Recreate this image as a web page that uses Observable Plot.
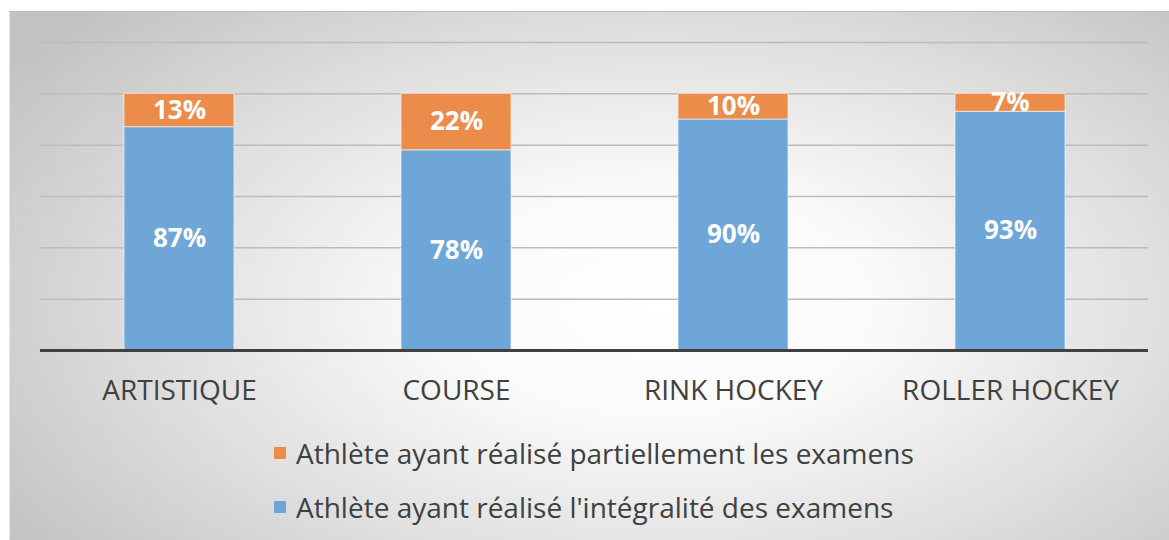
<!DOCTYPE html>
<html>
<head>
<meta charset="utf-8">
<script src="https://cdn.jsdelivr.net/npm/d3@7"></script>
<script src="https://cdn.jsdelivr.net/npm/@observablehq/plot@0.6"></script>
<style>
  html, body { margin: 0; padding: 0; background: #fff; width: 1169px; height: 540px; overflow: hidden; }
  #chart {
    position: absolute; left: 9px; top: 11px; width: 1160px; height: 529px;
    border-top: 1px solid #bdbdbd; border-left: 1px solid #e6e6e6;
    background: radial-gradient(ellipse 68% 80% at 56% 55%, #ffffff 0%, #fafafa 28%, #dedede 65%, #c2c2c2 100%);
    font-family: "Open Sans", sans-serif;
  }
  #plot { position: absolute; left: 0; top: 0; }
  #legend { position: absolute; left: 264px; top: 414px; color: #404040; font-size: 28px; }
  .item { display: flex; align-items: center; height: 54px; }
  .sw { width: 12px; height: 12px; margin-right: 10px; }
</style>
</head>
<body>
<div id="chart"><div id="plot"></div><div id="legend"></div></div>
<script>
const categories = ["ARTISTIQUE", "COURSE", "RINK HOCKEY", "ROLLER HOCKEY"];
const complete = [87, 78, 90, 93];
const partial = [13, 22, 10, 7];
const seriesNames = ["Athlète ayant réalisé l'intégralité des examens", "Athlète ayant réalisé partiellement les examens"];
const seriesColors = ["#6fa6d8", "#ec8c4b"];
const legendOrder = [1, 0];
const gridTicks = [0, 20, 40, 60, 80, 100, 120];

const data = [];
categories.forEach((c, i) => {
  data.push({cat: c, series: seriesNames[0], value: complete[i]});
  data.push({cat: c, series: seriesNames[1], value: partial[i]});
});

const plot = Plot.plot({
  width: 1160,
  height: 420,
  marginTop: 30,
  marginBottom: 82,
  marginLeft: 30,
  marginRight: 22,
  style: {background: "transparent", fontFamily: "Open Sans, sans-serif", overflow: "visible"},
  x: {domain: categories, paddingInner: 0.603, paddingOuter: 0.3, label: null},
  y: {domain: [0, 120], label: null, axis: null},
  color: {domain: seriesNames, range: seriesColors},
  marks: [
    Plot.ruleY(gridTicks.filter(t => t > 0), {stroke: "#bcbcbc", strokeWidth: 1.5}),
    Plot.barY(data, Plot.stackY({x: "cat", y: "value", fill: "series", order: seriesNames, stroke: "#f4f4f4", strokeOpacity: 0.7, strokeWidth: 1})),
    Plot.text(data, Plot.stackY({x: "cat", y: "value", z: "series", order: seriesNames, text: d => d.value + "%", fill: "white", fontWeight: "bold", fontSize: 26})),
    Plot.ruleY([0], {stroke: "#404040", strokeWidth: 3}),
    Plot.axisX({tickSize: 0, tickPadding: 30, fontSize: 28, color: "#404040", label: null})
  ]
});
document.getElementById("plot").appendChild(plot);

const legend = document.getElementById("legend");
legendOrder.forEach(i => {
  const item = document.createElement("div");
  item.className = "item";
  const sw = document.createElement("div");
  sw.className = "sw";
  sw.style.background = seriesColors[i];
  const t = document.createElement("span");
  t.textContent = seriesNames[i];
  item.appendChild(sw); item.appendChild(t);
  legend.appendChild(item);
});
</script>
</body>
</html>
